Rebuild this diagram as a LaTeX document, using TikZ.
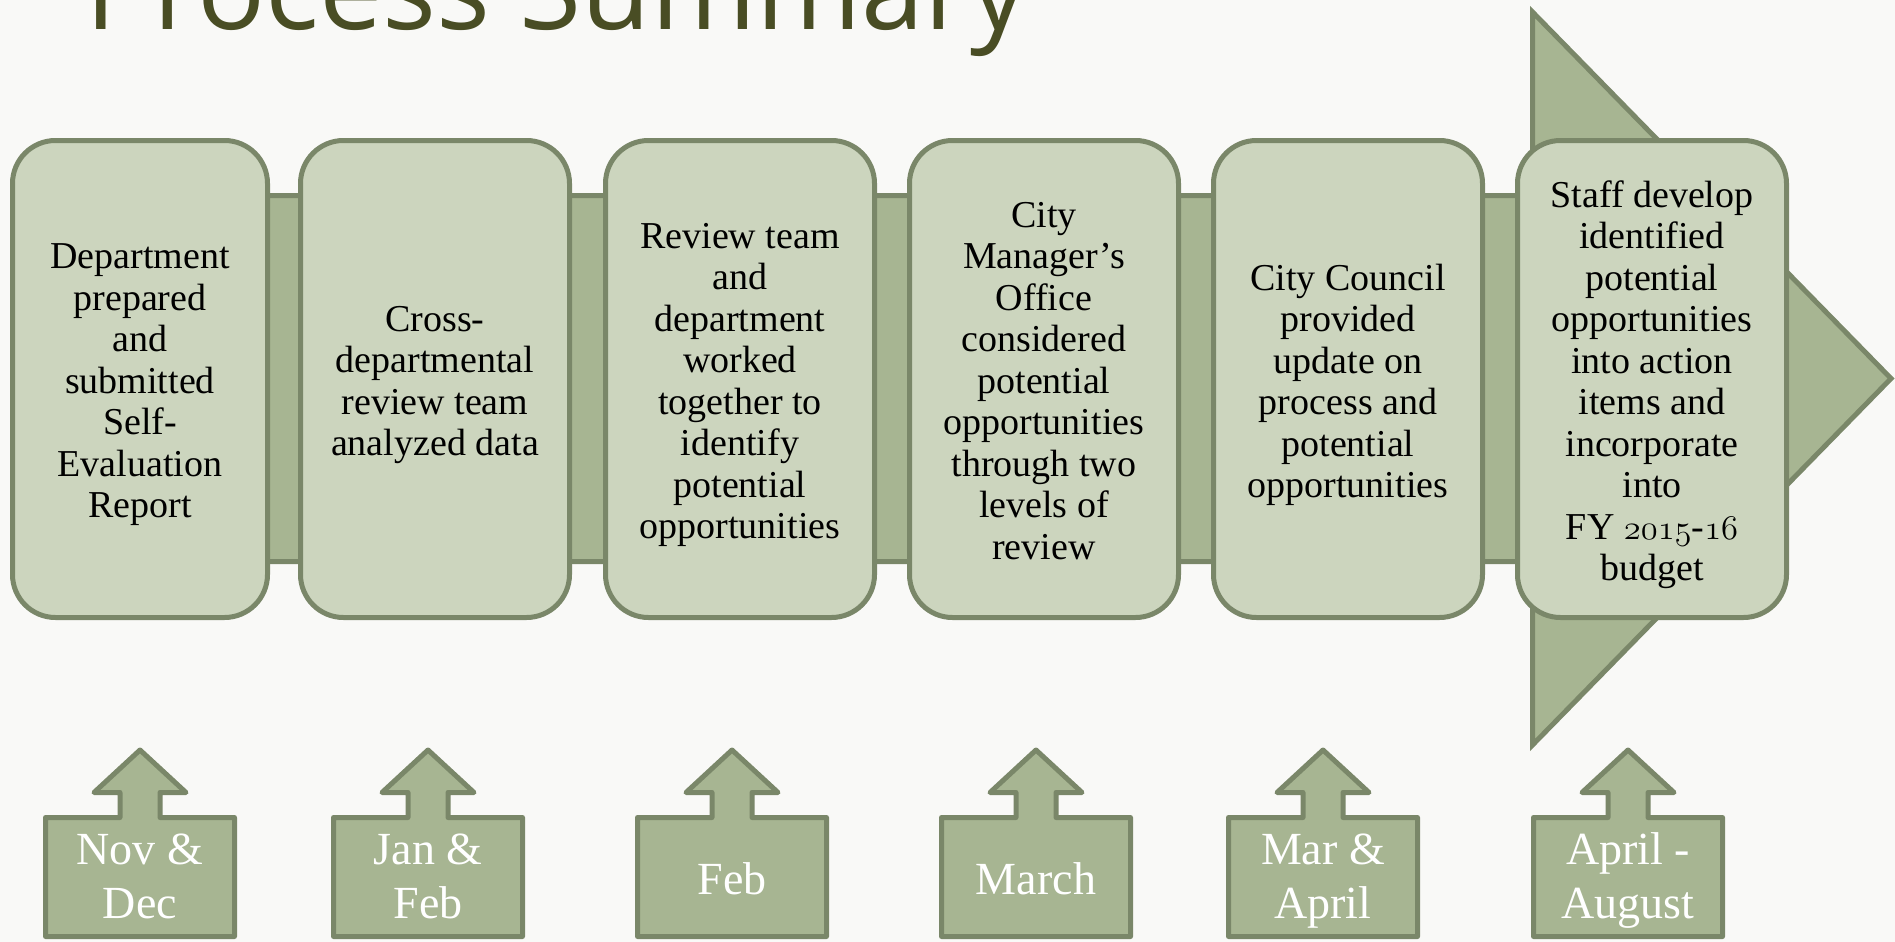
\documentclass[tikz,border=0pt]{standalone}
\usepackage{fontspec}
\setmainfont{Liberation Serif}
\newfontfamily\titlefont{Open Sans}
\newcommand\osnum[1]{{\usefont{OML}{cmm}{m}{it}#1}}
\definecolor{boxfill}{HTML}{CCD5BE}
\definecolor{edgecol}{HTML}{7A8769}
\definecolor{bandfill}{HTML}{A7B592}
\definecolor{titlecol}{HTML}{494D24}
\definecolor{bgcol}{HTML}{F9F9F7}
\begin{document}
\begin{tikzpicture}[x=0.5pt,y=-0.5pt,
  stepbox/.style={draw=edgecol, fill=boxfill, line width=2.5pt, rounded corners=21.5pt,
    minimum height=238.5pt, minimum width=134.5pt, inner sep=0pt, outer sep=0pt},
  steptext/.style={align=center, text=black, inner sep=0pt, yshift=-4pt,
    font=\fontsize{19pt}{20.75pt}\selectfont,
    execute at begin node=\strut, execute at end node=\strut},
  bandshape/.style={draw=edgecol, fill=bandfill, line width=2.5pt, line join=miter},
  calloutshape/.style={draw=edgecol, fill=bandfill, line width=2.5pt, line join=round},
  datelabel/.style={align=center, text=white, inner sep=0pt, font=\fontsize{23pt}{27pt}\selectfont,
    execute at begin node=\strut, execute at end node=\strut}]
\useasboundingbox (0,0) rectangle (1895,942);
\fill[bgcol] (0,0) rectangle (1895,942);
% title
\node[anchor=base west, inner sep=0pt, text=titlecol, font=\titlefont\fontsize{56.5pt}{60pt}\selectfont] (title) at (85,29) {Process Summary};
% band with arrow head
\draw[bandshape] (200,195.5) -- (1532.5,195.5) -- (1532.5,12) -- (1891,378.5) -- (1532.5,745) -- (1532.5,561.5) -- (200,561.5) -- cycle;
% step boxes
\node[stepbox, minimum width=127.5pt] (b1) at (140,379) {};
\node[stepbox] (b2) at (435,379) {};
\node[stepbox] (b3) at (740,379) {};
\node[stepbox] (b4) at (1044,379) {};
\node[stepbox] (b5) at (1348,379) {};
\node[stepbox] (b6) at (1652,379) {};
\node[steptext] (t1) at (b1.center) {Department\\prepared\\and\\submitted\\Self-\\Evaluation\\Report};
\node[steptext] (t2) at (b2.center) {Cross-\\departmental\\review team\\analyzed data};
\node[steptext] (t3) at (b3.center) {Review team\\and\\department\\worked\\together to\\identify\\potential\\opportunities};
\node[steptext] (t4) at (b4.center) {City\\Manager’s\\Office\\considered\\potential\\opportunities\\through two\\levels of\\review};
\node[steptext] (t5) at (b5.center) {City Council\\provided\\update on\\process and\\potential\\opportunities};
\node[steptext] (t6) at (b6.center) {Staff develop\\identified\\potential\\opportunities\\into action\\items and\\incorporate\\into\\FY \osnum{2015}-\osnum{16}\\budget};
% date callouts
\foreach \c/\n/\t in {140/d1/{Nov \&\\Dec}, 428/d2/{Jan \&\\Feb}, 732/d3/{Feb}, 1036/d4/{March}, 1323/d5/{Mar \&\\April}, 1628/d6/{April -\\August}}{
  \draw[calloutshape] (\c,750) -- ({\c+46},792.5) -- ({\c+20},792.5) -- ({\c+20},817.5) -- ({\c+94.5},817.5)
     -- ({\c+94.5},936.5) -- ({\c-94.5},936.5) -- ({\c-94.5},817.5) -- ({\c-20},817.5) -- ({\c-20},792.5)
     -- ({\c-46},792.5) -- cycle;
  \node[datelabel] (\n) at (\c,884) {\t};
}
\end{tikzpicture}
\end{document}
